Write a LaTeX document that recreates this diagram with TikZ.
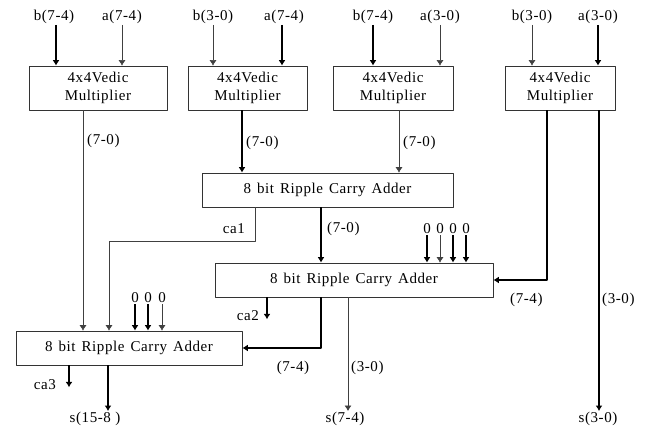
\documentclass[tikz,border=0pt]{standalone}
\usepackage{fontspec}
\setmainfont{Liberation Serif}[LetterSpace=4]
\usetikzlibrary{arrows.meta}
\newcommand\rcafont{\fontsize{15}{18}\selectfont\spaceskip=6pt\relax}
\begin{document}
\begin{tikzpicture}[x=1pt, y=-1pt, line join=round, >={Latex[length=5.5pt,width=7pt]},
	font=\fontsize{15}{18}\selectfont,
	block/.style={draw=black!80, line width=0.7pt, rectangle, inner sep=0pt, align=center},
	mult/.style={block, minimum height=44pt},
	rca/.style={block, minimum height=34pt, font=\rcafont},
	lbl/.style={inner sep=1pt},
	bus/.style={->, line width=1.1pt},
	wire/.style={->, line width=0.6pt, black!75}
	]
	\useasboundingbox (0,0) rectangle (646,428);
	% multipliers
	\node[mult, minimum width=138pt] (m1) at (98,88) {4x4Vedic\\Multiplier};
	\node[mult, minimum width=119pt] (m2) at (247.5,88) {4x4Vedic\\Multiplier};
	\node[mult, minimum width=120pt] (m3) at (393,88) {4x4Vedic\\Multiplier};
	\node[mult, minimum width=110pt] (m4) at (560,88) {4x4Vedic\\Multiplier};
	% adders
	\node[rca, minimum width=251pt] (r1) at (327.5,190) {8 bit Ripple Carry Adder};
	\node[rca, minimum width=278pt] (r2) at (354,280) {8 bit Ripple Carry Adder};
	\node[rca, minimum width=226pt] (r3) at (129,348) {8 bit Ripple Carry Adder};
	% inputs
	\node[lbl] (b1) at (54,17) {b(7-4)};
	\node[lbl] (a1) at (122,17) {a(7-4)};
	\node[lbl] (b2) at (213,17) {b(3-0)};
	\node[lbl] (a2) at (284,17) {a(7-4)};
	\node[lbl] (b3) at (373,17) {b(7-4)};
	\node[lbl] (a3) at (440,17) {a(3-0)};
	\node[lbl] (b4) at (532,17) {b(3-0)};
	\node[lbl] (a4) at (598,17) {a(3-0)};
	\draw[bus] ([xshift=2pt]b1.south) -- ([xshift=2pt]b1.south |- m1.north);
	\draw[wire] (a1.south) -- (a1.south |- m1.north);
	\draw[wire] (b2.south) -- (b2.south |- m2.north);
	\draw[bus] ([xshift=-2pt]a2.south) -- ([xshift=-2pt]a2.south |- m2.north);
	\draw[bus] (b3.south) -- (b3.south |- m3.north);
	\draw[wire] (a3.south) -- (a3.south |- m3.north);
	\draw[wire] (b4.south) -- (b4.south |- m4.north);
	\draw[bus] (a4.south) -- (a4.south |- m4.north);
	% multiplier outputs
	\draw[wire] ([xshift=-15pt]m1.south) -- ([xshift=-15pt]m1.south |- r3.north);
	\node[lbl, anchor=west] (p1) at (86,141) {(7-0)};
	\draw[bus] ([xshift=-5.5pt]m2.south) -- ([xshift=-5.5pt]m2.south |- r1.north);
	\node[lbl, anchor=west] (p2) at (245,143) {(7-0)};
	\draw[wire] ([xshift=6pt]m3.south) -- ([xshift=6pt]m3.south |- r1.north);
	\node[lbl, anchor=west] (p3) at (402,143) {(7-0)};
	\draw[bus] ([xshift=-13pt]m4.south) |- (r2.east);
	\node[lbl, anchor=west] (p4) at (509,300) {(7-4)};
	\node[lbl] (s3) at (598,419) {s(3-0)};
	\draw[bus] ([xshift=39pt]m4.south) -- ([xshift=39pt]m4.south |- s3.north);
	\node[lbl, anchor=west] (p5) at (601,300) {(3-0)};
	% first adder
	\draw[wire] ([xshift=-72.5pt]r1.south) -- ++(0,34) -| ([xshift=-20pt]r3.north);
	\node[lbl] (ca1) at (234,229) {ca1};
	\draw[bus] ([xshift=-6.5pt]r1.south) -- ([xshift=-6.5pt]r1.south |- r2.north);
	\node[lbl, anchor=west] (p6) at (326,229) {(7-0)};
	\foreach \x/\s in {427/bus,440/wire,453/bus,466/bus}{
		\node[lbl] (z\x) at (\x,229) {0};
		\draw[\s] (z\x.south) -- (z\x.south |- r2.north);
	}
	% second adder
	\node[lbl] (ca2) at (248,316) {ca2};
	\draw[bus] ([xshift=-87pt]r2.south) -- ++(0,22);
	\draw[bus] ([xshift=-33pt]r2.south) |- (r3.east);
	\node[lbl] (p7) at (293,368) {(7-4)};
	\node[lbl] (s2) at (345,419) {s(7-4)};
	\draw[wire] ([xshift=-6pt]r2.south) -- ([xshift=-6pt]r2.south |- s2.north);
	\node[lbl, anchor=west] (p8) at (350,368) {(3-0)};
	\foreach \x/\s in {135/bus,148/bus,162/wire}{
		\node[lbl] (y\x) at (\x,298) {0};
		\draw[\s] (y\x.south) -- (y\x.south |- r3.north);
	}
	% third adder
	\node[lbl] (ca3) at (45,385) {ca3};
	\draw[bus] ([xshift=-60pt]r3.south) -- ++(0,22);
	\node[lbl] (s1) at (95,419) {s(15-8 )};
	\draw[bus] ([xshift=-21pt]r3.south) -- ([xshift=-21pt]r3.south |- s1.north);
\end{tikzpicture}
\end{document}
